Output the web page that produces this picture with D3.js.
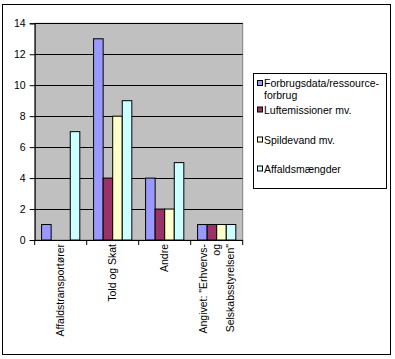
<!DOCTYPE html>
<html><head><meta charset="utf-8">
<script src="https://cdn.jsdelivr.net/npm/d3@7"></script>
<style>body{margin:0;background:#fff}svg{display:block;font-family:"Liberation Sans",Arial,sans-serif}</style>
</head><body><svg width="395" height="359"></svg>
<script>
const categories = ["Affaldstransportører", "Told og Skat", "Andre", "Angivet: \"Erhvervs-|og|Selskabsstyrelsen\""];
const seriesNames = ["Forbrugsdata/ressource-|forbrug", "Luftemissioner mv.", "Spildevand mv.", "Affaldsmængder"];
const forbrug = [1, 13, 4, 1];
const luft = [0, 4, 2, 1];
const spildevand = [0, 8, 2, 1];
const affald = [7, 9, 5, 1];
const yTicks = [0, 2, 4, 6, 8, 10, 12, 14];
const colors = ["#9999FF", "#993366", "#FFFFCC", "#CCFFFF"];
const series = [forbrug, luft, spildevand, affald];

const svg = d3.select("svg");
svg.append("rect").attr("x", 2.5).attr("y", 4.5).attr("width", 388).attr("height", 350)
  .attr("fill", "#fff").attr("stroke", "#000").attr("stroke-width", 1);

const L = 34.7, R = 242.7, T = 23.3, B = 240;
const x = d3.scaleBand().domain(categories).range([L, R]).paddingInner(0).paddingOuter(0);
const x1 = d3.scaleBand().domain(d3.range(4)).range([0, x.bandwidth()]).paddingOuter(0.72).paddingInner(0);
const y = d3.scaleLinear().domain([0, 14]).range([B, T]);

svg.append("rect").attr("x", L).attr("y", T).attr("width", R - L).attr("height", B - T)
  .attr("fill", "#C0C0C0").attr("stroke", "#808080");

svg.append("g").selectAll("line").data(yTicks.filter(d => d > 0)).join("line")
  .attr("x1", L).attr("x2", R).attr("y1", d => Math.round(y(d)) + 0.5).attr("y2", d => Math.round(y(d)) + 0.5)
  .attr("stroke", "#000");

const g = svg.append("g");
categories.forEach((c, ci) => {
  series.forEach((s, si) => {
    if (s[ci] <= 0) return;
    g.append("rect")
      .attr("x", x(c) + x1(si)).attr("width", x1.bandwidth())
      .attr("y", y(s[ci])).attr("height", y(0) - y(s[ci]))
      .attr("fill", colors[si]).attr("stroke", "#000").attr("stroke-width", 1);
  });
});

const FS = 10.5;
// y axis
const yAxis = d3.axisLeft(y).tickValues(yTicks).tickSize(5).tickPadding(4).tickFormat(d3.format("d"));
const ya = svg.append("g").attr("transform", `translate(${L},0)`).call(yAxis);
ya.select(".domain").attr("stroke", "#000");
ya.selectAll("text").attr("font-size", FS).attr("fill", "#000").attr("font-family", "Liberation Sans, Arial, sans-serif");

// x axis
const xa = svg.append("g").attr("transform", `translate(0,${B})`);
xa.append("line").attr("x1", L).attr("x2", R).attr("y1", 0.5).attr("y2", 0.5).attr("stroke", "#000");
xa.selectAll("line.t").data(d3.range(5)).join("line").attr("class", "t")
  .attr("x1", i => L + i * x.step()).attr("x2", i => L + i * x.step())
  .attr("y1", 0).attr("y2", 5).attr("stroke", "#000");

categories.forEach(c => {
  const lines = c.split("|");
  const cx = x(c) + x.bandwidth() / 2;
  const lh = 13.3;
  const t = svg.append("text")
    .attr("transform", `translate(${cx},${B + 4}) rotate(-90)`)
    .attr("text-anchor", "end").attr("font-size", FS).attr("fill", "#000");
  lines.forEach((ln, i) => {
    t.append("tspan").attr("x", 0).attr("dy", i === 0 ? (3.7 - (lines.length - 1) * lh / 2) : lh).text(ln);
  });
});

// legend
const lg = svg.append("g");
lg.append("rect").attr("x", 253.5).attr("y", 73.5).attr("width", 133).attr("height", 115)
  .attr("fill", "#fff").attr("stroke", "#000");
const ly = [83.5, 110, 140, 169];
seriesNames.forEach((n, i) => {
  lg.append("rect").attr("x", 257.5).attr("y", ly[i] - 3).attr("width", 5).attr("height", 5)
    .attr("fill", colors[i]).attr("stroke", "#000");
  const t = lg.append("text").attr("font-size", FS).attr("fill", "#000");
  n.split("|").forEach((ln, j) => {
    t.append("tspan").attr("x", 264).attr("y", ly[i] + 3.7 + j * 12).text(ln);
  });
});
</script>
</body></html>
